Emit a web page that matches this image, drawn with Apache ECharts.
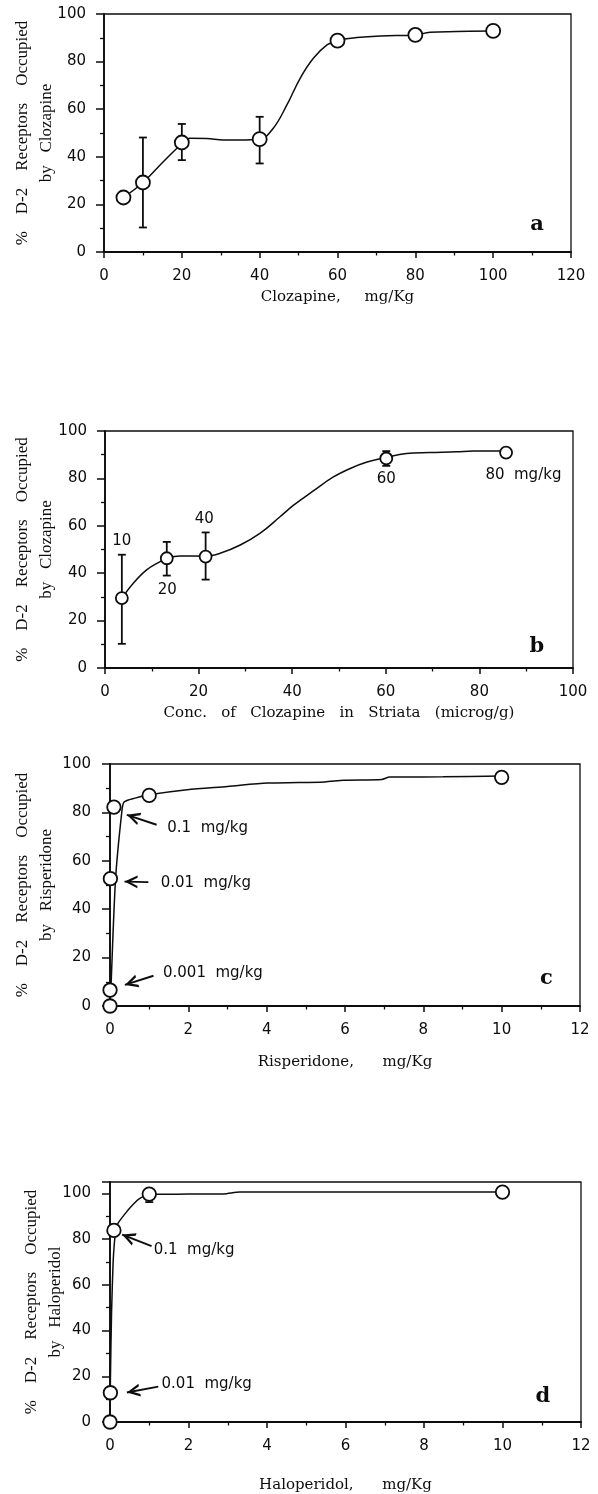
<!DOCTYPE html>
<html>
<head>
<meta charset="utf-8">
<script src="https://cdn.jsdelivr.net/npm/echarts@6/dist/echarts.min.js"></script>
<style>
  html, body { margin: 0; padding: 0; background: #fff; }
  #chart { width: 598px; height: 1494px; }
</style>
</head>
<body>
<div id="chart"></div>
<script>
// ---- panel a: clozapine dose vs occupancy
const aDose = [5, 10, 20, 40, 60, 80, 100];
const aOcc = [22.9, 29.2, 46.0, 47.4, 88.8, 91.2, 92.9];
const aErrDose = [10, 20, 40, 60];
const aErrLow = [10.3, 38.6, 37.2, 86.6];
const aErrHigh = [48.1, 53.8, 56.8, 91.0];
const aCurveX = [5, 10, 15.3, 20, 22.1, 26.4, 30.7, 35, 40, 43.5, 47, 50.4, 53.8, 57.3, 60, 65, 71, 80, 83.8, 90.7, 100];
const aCurveY = [22.9, 29.2, 38.0, 45.5, 47.8, 47.7, 47.1, 47.1, 47.4, 52.0, 61.8, 73.0, 81.4, 87.0, 88.9, 90.1, 90.8, 91.2, 92.3, 92.6, 92.9];

// ---- panel b: striatal concentration vs occupancy
const bConc = [3.6, 13.2, 21.5, 60.1, 85.7];
const bOcc = [29.5, 46.3, 47.0, 88.4, 90.9];
const bErrLow = [10.2, 39.0, 37.3, 85.3, 89.5];
const bErrHigh = [47.8, 53.2, 57.2, 91.5, 92.3];
const bCurveX = [3.6, 6.05, 8.9, 11.8, 13.2, 16.0, 21.5, 24.6, 28.9, 33.1, 37.4, 40.3, 44.5, 48.8, 52.4, 56.0, 60.1, 64.4, 69.4, 75.1, 78.7, 85.7];
const bCurveY = [29.5, 35.8, 41.4, 44.9, 46.3, 47.3, 47.2, 48.4, 51.9, 56.8, 63.8, 68.7, 74.7, 80.6, 84.2, 86.9, 88.9, 90.5, 90.9, 91.2, 91.6, 91.6];
const bDoseText = ['10', '20', '40', '60', '80  mg/kg'];
const bDoseTextX = [3.6, 13.3, 21.2, 60.1, 89.4];
const bDoseTextY = [53.7, 32.7, 62.8, 79.7, 81.4];

// ---- panel c: risperidone
const cDose = [0, 0.001, 0.01, 0.1, 1, 10];
const cOcc = [0, 6.6, 52.6, 82.2, 87.0, 94.5];
const cCurveX = [0, 0.02, 0.14, 0.3, 0.36, 0.64, 1.0, 1.97, 3.0, 4.02, 5.48, 5.97, 6.94, 7.14, 8.5, 10];
const cCurveY = [0, 6, 52, 80, 84.3, 85.9, 87.3, 89.4, 90.7, 92.1, 92.6, 93.3, 93.6, 94.6, 94.7, 95.0];
const cNoteText = ['0.1  mg/kg', '0.01  mg/kg', '0.001  mg/kg'];
const cNoteX = [1.45, 1.28, 1.34];
const cNoteY = [73.5, 50.8, 13.5];
const cArrowFrom = [[1.19, 74.9], [0.98, 51.2], [1.11, 12.5]];
const cArrowTo = [[0.43, 79.0], [0.37, 51.4], [0.38, 8.7]];

// ---- panel d: haloperidol
const dDose = [0, 0.01, 0.1, 1, 10];
const dOcc = [0, 12.8, 83.8, 99.7, 100.6];
const dErrDose = [1];
const dErrLow = [96.2];
const dErrHigh = [101.5];
const dCurveX = [0, 0.01, 0.04, 0.08, 0.11, 0.15, 0.21, 0.45, 0.63, 0.75, 1.0, 2.0, 2.9, 3.3, 10];
const dCurveY = [0, 18, 48, 70, 78, 84, 87.1, 92.5, 95.9, 97.7, 99.6, 99.7, 99.8, 100.6, 100.6];
const dNoteText = ['0.1  mg/kg', '0.01  mg/kg'];
const dNoteX = [1.10, 1.30];
const dNoteY = [75.4, 16.7];
const dArrowFrom = [[1.06, 76.9], [1.23, 15.5]];
const dArrowTo = [[0.31, 82.0], [0.43, 12.9]];

// panel letters
const letters = ['a', 'b', 'c', 'd'];
const letterX = [111.3, 92.3, 11.14, 11.03];
const letterY = [11.5, 9.1, 11.5, 11.1];

const INK = '#0d0d0d';
const wide = n => ' '.repeat(n);
const yLine1 = ['%', 'D-2', 'Receptors', 'Occupied'].join(wide(4));
const yTitles = ['Clozapine', 'Clozapine', 'Risperidone', 'Haloperidol'].map(d => yLine1 + '\n' + 'by' + wide(3) + d);
const xTitles = [
  'Clozapine,' + wide(5) + 'mg/Kg',
  ['Conc.', 'of', 'Clozapine', 'in', 'Striata', '(microg/g)'].join(wide(3)),
  'Risperidone,' + wide(6) + 'mg/Kg',
  'Haloperidol,' + wide(6) + 'mg/Kg'
];

const pts = (xs, ys) => xs.map((x, i) => [x, ys[i]]);

// open chevron arrow head, tip at the centre of its box
const ARROW = 'path://M6,-12L6.02,-12L6,-11.98Z M0,12 L6,0 L12,12 L9.7,12 L6,4.6 L2.3,12 Z';

const layout = [
  { left: 104, top: 14, width: 467, height: 238, yGap: 45, xGap: 38, labelMargin: 18 },
  { left: 105, top: 431, width: 468, height: 237, yGap: 46, xGap: 38, labelMargin: 18 },
  { left: 110, top: 764, width: 470, height: 242, yGap: 51, xGap: 49, labelMargin: 19 },
  { left: 110, top: 1182, width: 471, height: 240, yGap: 42, xGap: 56, labelMargin: 19 }
];
const xMax = [120, 100, 12, 12];
const xStep = [20, 20, 2, 2];
const yMax = [100, 100, 100, 105];

const grid = layout.map(l => ({
  left: l.left, top: l.top, width: l.width, height: l.height,
  show: true, borderColor: INK, borderWidth: 1.3
}));

const xAxis = layout.map((l, i) => ({
  type: 'value', gridIndex: i, min: 0, max: xMax[i], interval: xStep[i],
  name: xTitles[i], nameLocation: 'middle', nameGap: l.xGap, nameMoveOverlap: false,
  nameTextStyle: { fontFamily: 'DejaVu Serif', fontSize: 15, color: INK },
  axisLine: { onZero: false, lineStyle: { color: INK, width: 1.8 } },
  axisTick: { length: 6, lineStyle: { color: INK, width: 1.5 } },
  minorTick: { show: true, splitNumber: 2, length: 3.5, lineStyle: { color: INK, width: 1.3 } },
  axisLabel: { margin: 17, fontFamily: 'DejaVu Sans', fontSize: 15, color: INK },
  splitLine: { show: false }
}));

const yAxis = layout.map((l, i) => ({
  type: 'value', gridIndex: i, min: 0, max: yMax[i], interval: 20,
  name: yTitles[i], nameLocation: 'middle', nameRotate: 90, nameGap: l.yGap, nameMoveOverlap: false,
  nameTextStyle: { fontFamily: 'Liberation Serif', fontSize: 17, lineHeight: 24, color: INK },
  axisLine: { onZero: false, lineStyle: { color: INK, width: 1.8 } },
  axisTick: { length: 8, lineStyle: { color: INK, width: 1.5 } },
  minorTick: { show: true, splitNumber: 2, length: 4, lineStyle: { color: INK, width: 1.3 } },
  axisLabel: { margin: l.labelMargin, fontFamily: 'DejaVu Sans', fontSize: 15, color: INK, showMaxLabel: i === 3 ? false : null },
  splitLine: { show: false }
}));

function curve(i, xs, ys, smooth) {
  return {
    type: 'line', xAxisIndex: i, yAxisIndex: i, data: pts(xs, ys),
    smooth: smooth, symbol: 'none', silent: true, z: 1,
    lineStyle: { color: INK, width: 1.5 }
  };
}

function circles(i, xs, ys, size) {
  return {
    type: 'scatter', xAxisIndex: i, yAxisIndex: i, data: pts(xs, ys),
    symbol: 'circle', symbolSize: size, silent: true, z: 4,
    itemStyle: { color: '#fff', borderColor: INK, borderWidth: 1.8, opacity: 1 }
  };
}

function errorBars(i, xs, lo, hi) {
  return {
    type: 'custom', xAxisIndex: i, yAxisIndex: i, silent: true, z: 2,
    data: xs.map((x, k) => [x, lo[k], hi[k]]),
    encode: { x: 0, y: [1, 2] },
    renderItem: (params, api) => {
      const top = api.coord([api.value(0), api.value(2)]);
      const bot = api.coord([api.value(0), api.value(1)]);
      const w = 4;
      const style = { stroke: INK, lineWidth: 1.8 };
      return {
        type: 'group',
        children: [
          { type: 'line', shape: { x1: top[0], y1: top[1], x2: bot[0], y2: bot[1] }, style },
          { type: 'line', shape: { x1: top[0] - w, y1: top[1], x2: top[0] + w, y2: top[1] }, style },
          { type: 'line', shape: { x1: bot[0] - w, y1: bot[1], x2: bot[0] + w, y2: bot[1] }, style }
        ]
      };
    }
  };
}

function notes(i, texts, xs, ys, textStyle, position, arrows) {
  const s = {
    type: 'scatter', xAxisIndex: i, yAxisIndex: i, silent: true, z: 5,
    symbol: 'circle', symbolSize: 1,
    itemStyle: { color: 'rgba(0,0,0,0)', opacity: 1 },
    data: texts.map((t, k) => ({ name: t, value: [xs[k], ys[k]] })),
    label: Object.assign({ show: true, formatter: '{b}', position: position, distance: 0, color: INK, opacity: 1 }, textStyle)
  };
  if (arrows) {
    s.markLine = {
      silent: true, animation: false,
      symbol: ['none', ARROW], symbolSize: [13, 26],
      lineStyle: { color: INK, width: 1.9, type: 'solid', opacity: 1 },
      label: { show: false },
      data: arrows[0].map((from, k) => [{ coord: from }, { coord: arrows[1][k] }])
    };
  }
  return s;
}

const sansNote = { fontFamily: 'DejaVu Sans', fontSize: 15 };
const letterFont = { fontFamily: 'DejaVu Serif', fontSize: 21, fontWeight: 'bold' };

const series = [
  curve(0, aCurveX, aCurveY, 0.4),
  errorBars(0, aErrDose, aErrLow, aErrHigh),
  circles(0, aDose, aOcc, 14),

  curve(1, bCurveX, bCurveY, 0.4),
  errorBars(1, bConc, bErrLow, bErrHigh),
  circles(1, bConc, bOcc, 12),
  notes(1, bDoseText, bDoseTextX, bDoseTextY, sansNote, 'inside'),

  curve(2, cCurveX, cCurveY, 0.25),
  circles(2, cDose, cOcc, 13.5),
  notes(2, cNoteText, cNoteX, cNoteY, sansNote, 'right', [cArrowFrom, cArrowTo]),

  curve(3, dCurveX, dCurveY, 0.25),
  errorBars(3, dErrDose, dErrLow, dErrHigh),
  circles(3, dDose, dOcc, 13.5),
  notes(3, dNoteText, dNoteX, dNoteY, sansNote, 'right', [dArrowFrom, dArrowTo])
];

letters.forEach((t, i) => {
  series.push(notes(i, [t], [letterX[i]], [letterY[i]], letterFont, 'inside'));
});

const chart = echarts.init(document.getElementById('chart'));
chart.setOption({
  animation: false,
  backgroundColor: '#fff',
  grid: grid,
  xAxis: xAxis,
  yAxis: yAxis,
  series: series
});
</script>
</body>
</html>
